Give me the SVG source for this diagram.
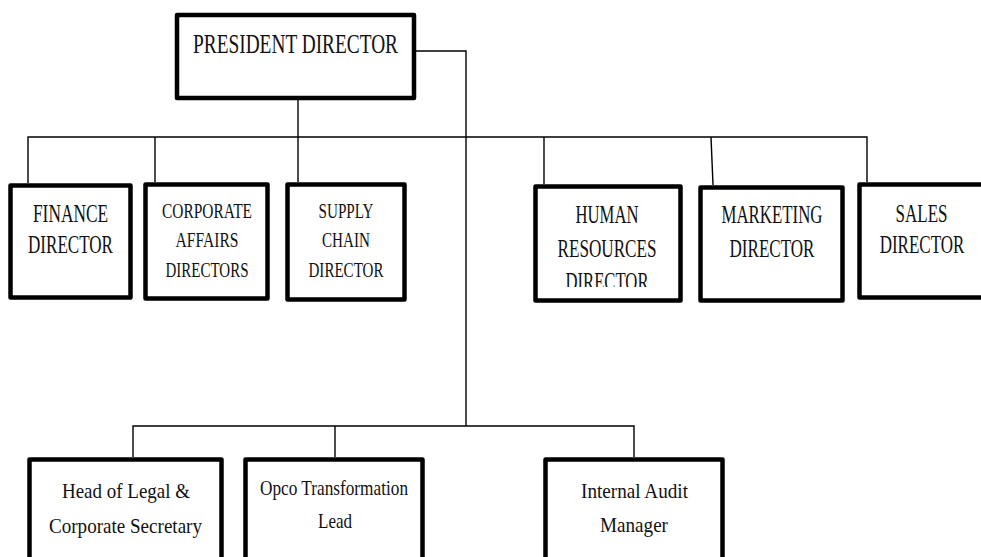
<svg xmlns="http://www.w3.org/2000/svg" width="981" height="557" viewBox="0 0 981 557">
  <style>
    .box { fill: #fff; stroke: #000; stroke-width: 4.5; stroke-linejoin: round; }
    .lbl { font-family: "Liberation Serif", "Times New Roman", serif; fill: #111; text-anchor: middle; }
    .big { font-size: 27px; }
    .md { font-size: 25px; }
    .sm { font-size: 22px; }
    .wire { fill: none; stroke: #000; stroke-width: 1.4; }
  </style>
  <defs>
    <clipPath id="hrClip"><rect x="538" y="189" width="140" height="98"/></clipPath>
  </defs>
  <rect width="981" height="557" fill="#fff"/>

  <!-- connectors -->
  <g id="connectors" class="wire">
    <path d="M298 100 V137"/>
    <path d="M28 183 V137 H867 V182"/>
    <path d="M155 137 V182"/>
    <path d="M298 137 V182"/>
    <path d="M544 137 V184"/>
    <path d="M711 137 L713 185"/>
    <path d="M416 51 H466 V426"/>
    <path d="M133 457 V426 H634 V457"/>
    <path d="M335 426 V457"/>
  </g>

  <g id="president">
    <rect class="box" x="177" y="15" width="237" height="83"/>
    <text class="lbl big" x="295.5" y="53" textLength="205" lengthAdjust="spacingAndGlyphs">PRESIDENT DIRECTOR</text>
  </g>

  <g id="finance">
    <rect class="box" x="10.5" y="185.5" width="120" height="112"/>
    <text class="lbl md" x="70.5" y="222" textLength="75" lengthAdjust="spacingAndGlyphs">FINANCE</text>
    <text class="lbl md" x="70.5" y="253" textLength="85" lengthAdjust="spacingAndGlyphs">DIRECTOR</text>
  </g>

  <g id="corporate-affairs">
    <rect class="box" x="145.5" y="184.5" width="122" height="114"/>
    <text class="lbl sm" x="207" y="218" textLength="90" lengthAdjust="spacingAndGlyphs">CORPORATE</text>
    <text class="lbl sm" x="207" y="247" textLength="63" lengthAdjust="spacingAndGlyphs">AFFAIRS</text>
    <text class="lbl sm" x="207" y="277" textLength="83" lengthAdjust="spacingAndGlyphs">DIRECTORS</text>
  </g>

  <g id="supply-chain">
    <rect class="box" x="287.5" y="184.5" width="117" height="115"/>
    <text class="lbl sm" x="346" y="218" textLength="55" lengthAdjust="spacingAndGlyphs">SUPPLY</text>
    <text class="lbl sm" x="346" y="247" textLength="48" lengthAdjust="spacingAndGlyphs">CHAIN</text>
    <text class="lbl sm" x="346" y="277" textLength="75" lengthAdjust="spacingAndGlyphs">DIRECTOR</text>
  </g>

  <g id="human-resources">
    <rect class="box" x="535.5" y="186.5" width="145" height="114"/>
    <g clip-path="url(#hrClip)">
      <text class="lbl md" x="607" y="223" textLength="63" lengthAdjust="spacingAndGlyphs">HUMAN</text>
      <text class="lbl md" x="607" y="257" textLength="99" lengthAdjust="spacingAndGlyphs">RESOURCES</text>
      <text class="lbl md" x="607" y="290" textLength="83" lengthAdjust="spacingAndGlyphs">DIRECTOR</text>
    </g>
  </g>

  <g id="marketing">
    <rect class="box" x="700.5" y="187.5" width="142" height="113"/>
    <text class="lbl md" x="772" y="223" textLength="101" lengthAdjust="spacingAndGlyphs">MARKETING</text>
    <text class="lbl md" x="772" y="257" textLength="85" lengthAdjust="spacingAndGlyphs">DIRECTOR</text>
  </g>

  <g id="sales">
    <rect class="box" x="859.5" y="184.5" width="128" height="113"/>
    <!-- condensed by a horizontal scale so the line stays inside the page -->
    <text class="lbl md" transform="translate(921.5 222) scale(0.68 1)">SALES</text>
    <text class="lbl md" transform="translate(922 253) scale(0.68 1)">DIRECTOR</text>
  </g>

  <g id="legal">
    <rect class="box" x="29.5" y="459.5" width="192" height="120"/>
    <text class="lbl sm" x="126" y="498" textLength="128" lengthAdjust="spacingAndGlyphs">Head of Legal &amp;</text>
    <text class="lbl sm" x="125.5" y="533" textLength="153" lengthAdjust="spacingAndGlyphs">Corporate Secretary</text>
  </g>

  <g id="opco">
    <rect class="box" x="245.5" y="459.5" width="177" height="120"/>
    <text class="lbl sm" x="334" y="495" textLength="148" lengthAdjust="spacingAndGlyphs">Opco Transformation</text>
    <text class="lbl sm" x="335" y="528" textLength="34" lengthAdjust="spacingAndGlyphs">Lead</text>
  </g>

  <g id="internal-audit">
    <rect class="box" x="545.5" y="459.5" width="177" height="120"/>
    <text class="lbl sm" x="634.5" y="498" textLength="107" lengthAdjust="spacingAndGlyphs">Internal Audit</text>
    <text class="lbl sm" x="634" y="532" textLength="68" lengthAdjust="spacingAndGlyphs">Manager</text>
  </g>
</svg>
